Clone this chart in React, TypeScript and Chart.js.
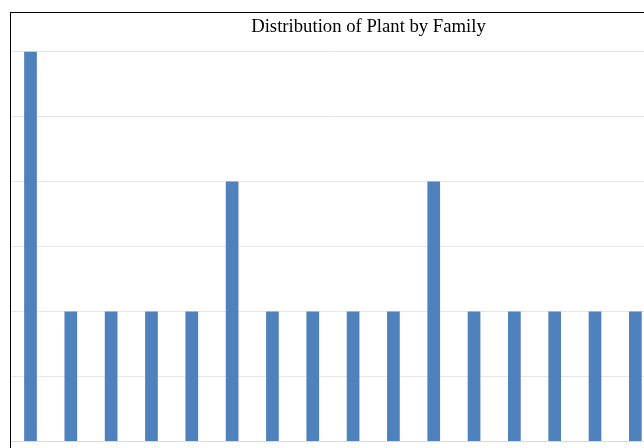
import React, { useEffect, useRef } from "react";
import { Chart, registerables } from "chart.js";

Chart.register(...registerables);

const chartTitle = "Distribution of Plant by Family";
const families = [
  "Family 1", "Family 2", "Family 3", "Family 4", "Family 5", "Family 6",
  "Family 7", "Family 8", "Family 9", "Family 10", "Family 11", "Family 12",
  "Family 13", "Family 14", "Family 15", "Family 16",
];
const plantCounts = [3, 1, 1, 1, 1, 2, 1, 1, 1, 1, 2, 1, 1, 1, 1, 1];
const yMin = 0;
const yMax = 3;
const yStep = 0.5;

export default function App() {
  const canvasRef = useRef<HTMLCanvasElement | null>(null);

  useEffect(() => {
    if (!canvasRef.current) return;
    const chart = new Chart(canvasRef.current, {
      type: "bar",
      data: {
        labels: families,
        datasets: [
          {
            label: "Plants",
            data: plantCounts,
            backgroundColor: "#4f81bd",
            borderWidth: 0,
            categoryPercentage: 1,
            barPercentage: 0.315,
          },
        ],
      },
      options: {
        animation: false,
        responsive: false,
        maintainAspectRatio: false,
        devicePixelRatio: 1,
        layout: { padding: { left: 10.34, right: 33.34, top: 0, bottom: 18.5 } },
        plugins: {
          legend: { display: false },
          tooltip: { enabled: false },
          title: {
            display: true,
            text: chartTitle,
            color: "#000000",
            font: { family: "'Liberation Serif', 'Times New Roman', serif", size: 18.7, weight: "normal", lineHeight: 1.2 },
            padding: { top: 16.1, bottom: 12.96 },
          },
        },
        scales: {
          x: {
            display: true,
            grid: { display: false, drawTicks: false },
            border: { display: true, color: "#d9d9d9", width: 1 },
            ticks: { display: false },
            afterFit: (s: any) => { s.height = 0; },
          },
          y: {
            position: "right",
            min: yMin,
            max: yMax,
            ticks: { display: false, stepSize: yStep },
            grid: { color: "#e6e6e6", lineWidth: 1, drawTicks: false },
            border: { display: false },
            afterFit: (s: any) => { s.width = 71.16; },
          },
        },
      },
    });
    return () => chart.destroy();
  }, []);

  return (
    <div style={{ position: "fixed", left: 0, top: 0, width: 644, height: 448, overflow: "hidden", background: "#fff" }}>
      <canvas ref={canvasRef} width={760} height={460} style={{ position: "absolute", left: 0, top: 0, width: 760, height: 460 }} />
      <div
        style={{
          position: "absolute",
          left: 10,
          top: 12,
          width: 900,
          height: 900,
          border: "1px solid #000",
          boxSizing: "border-box",
          pointerEvents: "none",
        }}
      />
    </div>
  );
}
